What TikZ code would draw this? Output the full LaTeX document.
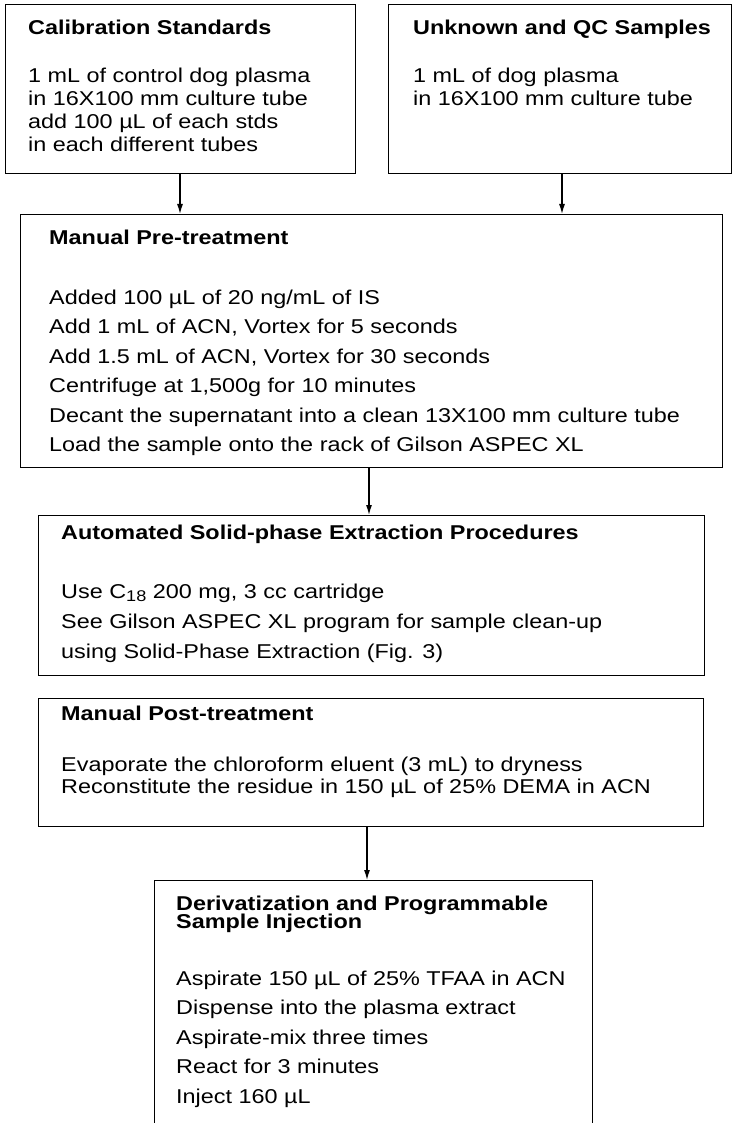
\documentclass[tikz,border=0pt]{standalone}
\usepackage{fontspec}
\setmainfont{Liberation Sans}[FakeStretch=1.17]
\usetikzlibrary{arrows.meta}
\begin{document}
\begin{tikzpicture}[x=1pt,y=-1pt,
  box/.style={draw, line width=1.4pt, anchor=north west, inner sep=0pt},
  txt/.style={anchor=base west, inner sep=0pt, font=\fontsize{20}{22}\selectfont},
  ttl/.style={anchor=base west, inner sep=0pt, font=\fontsize{20}{22}\selectfont\bfseries},
  arr/.style={-{Latex[length=10pt,width=6pt]}, line width=1.2pt}]
\clip (0,0) rectangle (733,1123);
% boxes
\node[box, minimum width=350pt, minimum height=169pt] (b1) at (5,4) {};
\node[box, minimum width=343pt, minimum height=169pt] (b2) at (388,4) {};
\node[box, minimum width=702pt, minimum height=253pt] (b3) at (20,214) {};
\node[box, minimum width=666pt, minimum height=160pt] (b4) at (38,515) {};
\node[box, minimum width=665pt, minimum height=128pt] (b5) at (38,698) {};
\node[box, minimum width=438pt, minimum height=260pt] (b6) at (154,880) {};
% box 1
\node[ttl] (t1) at (28,35) {Calibration Standards};
\node[txt] (t1a) at (28,83) {1 mL of control dog plasma};
\node[txt] (t1b) at (28,106) {in 16X100 mm culture tube};
\node[txt] (t1c) at (28,129) {add 100 µL of each stds};
\node[txt] (t1d) at (28,152) {in each different tubes};
% box 2
\node[ttl] (t2) at (413,35) {Unknown and QC Samples};
\node[txt] (t2a) at (413,83) {1 mL of dog plasma};
\node[txt] (t2b) at (413,106) {in 16X100 mm culture tube};
% box 3
\node[ttl] (t3) at (49,244) {Manual Pre-treatment};
\node[txt] (t3a) at (49,304) {Added 100 µL of 20 ng/mL of IS};
\node[txt] (t3b) at (49,333.5) {Add 1 mL of ACN, Vortex for 5 seconds};
\node[txt] (t3c) at (49,363) {Add 1.5 mL of ACN, Vortex for 30 seconds};
\node[txt] (t3d) at (49,392.5) {Centrifuge at 1,500g for 10 minutes};
\node[txt] (t3e) at (49,422) {Decant the supernatant into a clean 13X100 mm culture tube};
\node[txt] (t3f) at (49,451.5) {Load the sample onto the rack of Gilson ASPEC XL};
% box 4
\node[ttl] (t4) at (61,539) {Automated Solid-phase Extraction Procedures};
\node[txt] (t4a) at (61,598) {Use C\raisebox{-0.35ex}{\fontsize{15.5}{15}\selectfont 18} 200 mg, 3 cc cartridge};
\node[txt] (t4b) at (61,628) {See Gilson ASPEC XL program for sample clean-up};
\node[txt] (t4c) at (61,658) {using Solid-Phase Extraction (Fig. 3)};
% box 5
\node[ttl] (t5) at (61,720) {Manual Post-treatment};
\node[txt] (t5a) at (61,771) {Evaporate the chloroform eluent (3 mL) to dryness};
\node[txt] (t5b) at (61,793) {Reconstitute the residue in 150 µL of 25\% DEMA in ACN};
% box 6
\node[ttl] (t6) at (176,910) {Derivatization and Programmable};
\node[ttl] (t6x) at (176,928) {Sample Injection};
\node[txt] (t6a) at (176,985) {Aspirate 150 µL of 25\% TFAA in ACN};
\node[txt] (t6b) at (176,1014.5) {Dispense into the plasma extract};
\node[txt] (t6c) at (176,1044) {Aspirate-mix three times};
\node[txt] (t6d) at (176,1073.5) {React for 3 minutes};
\node[txt] (t6e) at (176,1103) {Inject 160 µL};
% arrows
\draw[arr] (180,0 |- b1.south) -- (180,0 |- b3.north);
\draw[arr] (562,0 |- b2.south) -- (562,0 |- b3.north);
\draw[arr] (369,0 |- b3.south) -- (369,0 |- b4.north);
\draw[arr] (367,0 |- b5.south) -- (367,0 |- b6.north);
\end{tikzpicture}
\end{document}
